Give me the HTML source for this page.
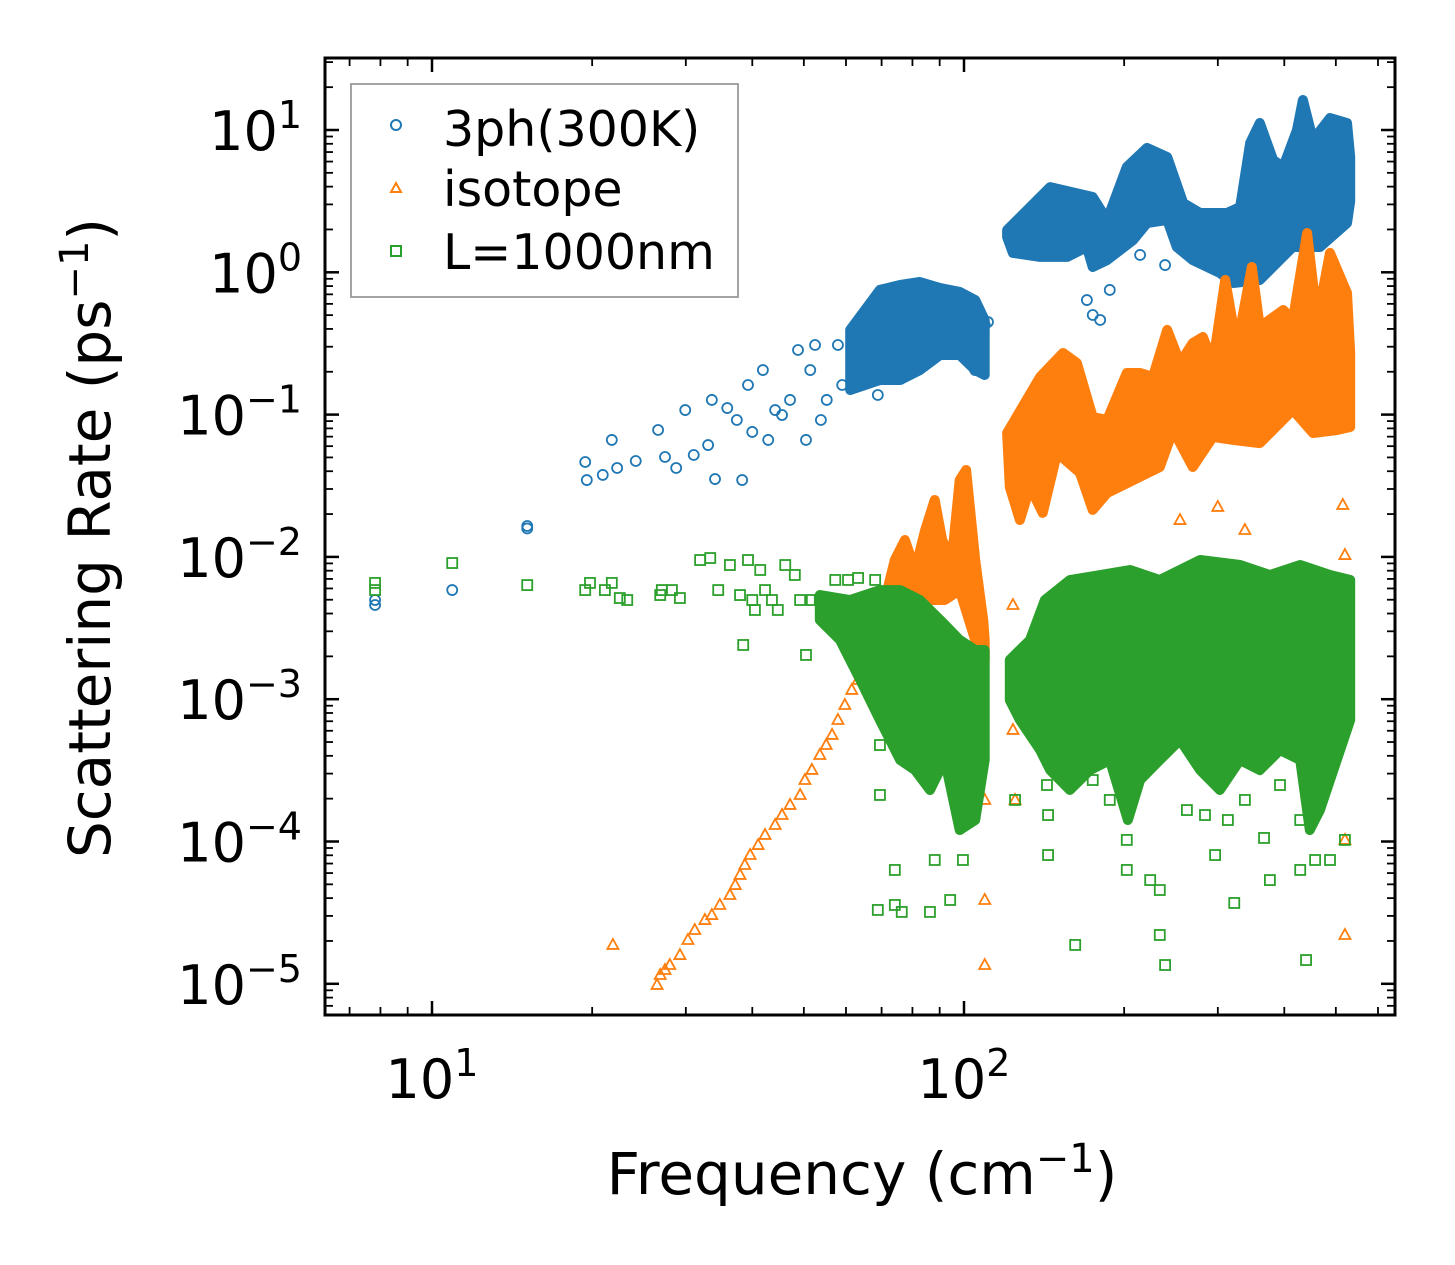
<!DOCTYPE html>
<html><head><meta charset="utf-8"><style>
html,body{margin:0;padding:0;background:#fff;}
svg{display:block;font-family:"DejaVu Sans","Liberation Sans",sans-serif;}
</style></head><body>
<svg id="chart" width="1455" height="1265" viewBox="0 0 1455 1265" xmlns="http://www.w3.org/2000/svg">
<defs><clipPath id="clip"><rect x="325" y="58" width="1070" height="957"/></clipPath></defs>
<rect x="325" y="58" width="1070" height="957" fill="#fff"/>
<g id="marks" clip-path="url(#clip)"></g>
<g id="ticks"></g>
<rect x="325" y="58" width="1070" height="957" fill="none" stroke="#000" stroke-width="3"/>
<g>
<rect x="351" y="84" width="387" height="213" fill="#fff" stroke="#999" stroke-width="1.8"/>
<circle cx="396" cy="125" r="5" fill="none" stroke="#1f77b4" stroke-width="2"/>
<text x="443" y="146" font-size="49">3ph(300K)</text>
<polygon points="396,183 401,192 391,192" fill="none" stroke="#ff7f0e" stroke-width="2"/>
<text x="443" y="206" font-size="49">isotope</text>
<rect x="391" y="246" width="10" height="10" fill="none" stroke="#2ca02c" stroke-width="2"/>
<text x="443" y="269" font-size="49">L=1000nm</text>
</g>
<text x="862" y="1194" font-size="58" text-anchor="middle">Frequency (cm<tspan dy="-22" font-size="40">−1</tspan><tspan dy="22">)</tspan></text>
<text transform="translate(110,538) rotate(-90)" font-size="58" text-anchor="middle">Scattering Rate (ps<tspan dy="-22" font-size="40">−1</tspan><tspan dy="22">)</tspan></text>
</svg>
<script>
// all values are log10 of the data (freq in cm^-1, rate in ps^-1)
const xTickExp=[1,2];
const yTickExp=[1,0,-1,-2,-3,-4,-5];
const xTickLabels=["1","2"];
const yTickLabels=["1","0","−1","−2","−3","−4","−5"];

const ph3Freq=[0.893,0.893,1.038,1.179,1.179,1.288,1.291,1.321,1.338,1.348,1.383,1.425,1.438,1.459,1.476,1.492,1.519,1.526,1.532,1.555,1.573,1.583,1.594,1.602,1.622,1.632,1.645,1.658,1.673,1.688,1.703,1.711,1.720,1.731,1.742,1.763,1.771,1.797,1.816,1.838,1.872,2.039,2.045,2.021,2.231,2.242,2.256,2.274,2.331,2.378];
const ph3Rate=[-2.303,-2.338,-2.233,-1.783,-1.800,-1.333,-1.460,-1.424,-1.178,-1.375,-1.326,-1.108,-1.298,-1.375,-0.968,-1.284,-1.214,-0.897,-1.453,-0.954,-1.038,-1.460,-0.792,-1.122,-0.687,-1.178,-0.968,-1.003,-0.897,-0.546,-1.178,-0.687,-0.511,-1.038,-0.897,-0.511,-0.792,-0.687,-0.757,-0.862,-0.722,-0.370,-0.349,-0.687,-0.195,-0.300,-0.335,-0.124,0.122,0.051];
const ph3BandAFreq=[1.786,1.842,1.880,1.917,1.955,1.992,2.021,2.039,2.039,2.021,1.992,1.955,1.917,1.880,1.842,1.786];
const ph3BandARate=[-0.405,-0.124,-0.089,-0.068,-0.110,-0.138,-0.195,-0.335,-0.722,-0.687,-0.581,-0.581,-0.687,-0.757,-0.757,-0.827];
const ph3BandBFreq=[2.081,2.162,2.242,2.269,2.306,2.344,2.382,2.412,2.444,2.494,2.519,2.538,2.556,2.581,2.600,2.626,2.637,2.656,2.688,2.720,2.726,2.726,2.720,2.669,2.618,2.556,2.506,2.481,2.430,2.400,2.382,2.344,2.318,2.269,2.242,2.231,2.194,2.143,2.092,2.081];
const ph3BandBRate=[0.297,0.599,0.529,0.368,0.740,0.874,0.810,0.487,0.417,0.417,0.459,0.909,1.049,0.789,0.740,1.0,1.211,0.930,1.084,1.049,0.810,0.5,0.346,0.178,0.178,-0.054,-0.075,-0.005,0.086,0.178,0.368,0.346,0.227,0.086,0.037,0.178,0.108,0.108,0.136,0.248];

const isoFreq=[1.340,1.423,1.429,1.438,1.447,1.466,1.481,1.494,1.513,1.526,1.541,1.560,1.570,1.579,1.588,1.598,1.613,1.626,1.645,1.658,1.673,1.692,1.701,1.714,1.729,1.741,1.752,1.763,1.776,1.789,1.801,1.808,1.820,1.827,1.838,1.850,2.039,2.039,2.039,2.092,2.092,2.096,2.265,2.406,2.477,2.528,2.712,2.716,2.716,2.716,2.613,2.368,2.594,2.500];
const isoRate=[-4.727,-5.008,-4.938,-4.903,-4.868,-4.798,-4.692,-4.622,-4.552,-4.517,-4.446,-4.376,-4.306,-4.235,-4.165,-4.095,-4.025,-3.954,-3.884,-3.814,-3.743,-3.673,-3.568,-3.497,-3.392,-3.322,-3.251,-3.146,-3.041,-2.935,-2.865,-2.795,-2.724,-2.654,-2.549,-2.443,-4.411,-4.868,-3.708,-2.338,-3.216,-3.708,-3.216,-1.741,-1.649,-1.811,-1.635,-1.987,-3.989,-4.657,-3.216,-2.935,-3.251,-3.006];
const isoBandAFreq=[1.842,1.870,1.889,1.908,1.927,1.945,1.959,1.977,1.992,2.004,2.021,2.036,2.039,2.039,2.021,1.992,1.964,1.936,1.908,1.880,1.852];
const isoBandARate=[-2.443,-2.022,-1.881,-2.092,-1.811,-1.600,-1.881,-2.022,-1.460,-1.389,-2.022,-2.443,-2.584,-2.724,-2.584,-2.233,-2.303,-2.303,-2.373,-2.514,-2.654];
const isoBandBFreq=[2.081,2.143,2.186,2.212,2.242,2.269,2.306,2.331,2.355,2.382,2.406,2.430,2.449,2.468,2.491,2.513,2.541,2.556,2.600,2.618,2.645,2.664,2.688,2.720,2.726,2.726,2.701,2.656,2.618,2.556,2.506,2.468,2.430,2.393,2.368,2.318,2.269,2.242,2.218,2.175,2.148,2.124,2.105,2.086];
const isoBandBRate=[-1.129,-0.736,-0.567,-0.637,-1.017,-1.038,-0.708,-0.708,-0.736,-0.405,-0.637,-0.497,-0.455,-0.637,-0.054,-0.525,0.037,-0.384,-0.265,-0.335,0.276,-0.335,0.136,-0.145,-0.567,-1.087,-1.108,-1.129,-0.968,-1.200,-1.178,-1.157,-1.368,-1.108,-1.368,-1.460,-1.551,-1.670,-1.410,-1.270,-1.691,-1.509,-1.741,-1.509];

const bndFreq=[0.893,0.893,1.038,1.179,1.288,1.297,1.325,1.338,1.353,1.367,1.429,1.432,1.451,1.466,1.504,1.523,1.538,1.560,1.579,1.585,1.594,1.602,1.607,1.617,1.626,1.639,1.650,1.664,1.682,1.692,1.703,1.714,1.729,1.739,1.758,1.767,1.782,1.801,1.816,1.833,1.842,1.842,1.838,1.870,1.870,1.883,1.936,1.945,1.974,1.998,2.096,2.156,2.158,2.209,2.242,2.306,2.306,2.368,2.368,2.378,2.350,2.419,2.453,2.496,2.472,2.508,2.564,2.594,2.632,2.632,2.643,2.688,2.716,2.660,2.575,2.158,2.209,2.274,2.528];
const bndRate=[-2.183,-2.233,-2.043,-2.198,-2.233,-2.183,-2.233,-2.183,-2.289,-2.303,-2.268,-2.233,-2.233,-2.289,-2.022,-2.008,-2.233,-2.057,-2.268,-2.619,-2.022,-2.303,-2.373,-2.092,-2.233,-2.303,-2.373,-2.057,-2.127,-2.303,-2.689,-2.303,-2.303,-2.408,-2.162,-2.443,-2.162,-2.148,-2.303,-2.162,-3.322,-3.673,-4.481,-4.446,-4.200,-4.495,-4.495,-4.130,-4.411,-4.130,-3.708,-3.603,-3.814,-3.533,-3.568,-4.200,-3.989,-4.341,-4.657,-4.868,-4.271,-3.779,-3.814,-3.849,-4.095,-4.432,-3.975,-3.603,-3.849,-4.200,-4.833,-4.130,-3.989,-4.130,-4.271,-4.095,-4.727,-3.708,-3.708];
const bndBandAFreq=[1.729,1.786,1.842,1.880,1.917,1.955,1.992,2.021,2.039,2.039,2.021,1.992,1.964,1.936,1.908,1.880,1.842,1.805,1.767,1.729];
const bndBandARate=[-2.268,-2.303,-2.233,-2.233,-2.303,-2.443,-2.584,-2.654,-2.654,-3.427,-3.849,-3.919,-3.427,-3.638,-3.498,-3.427,-3.146,-2.865,-2.584,-2.443];
const bndBandBFreq=[2.086,2.124,2.152,2.199,2.256,2.312,2.368,2.406,2.444,2.519,2.575,2.632,2.688,2.726,2.726,2.669,2.650,2.632,2.594,2.556,2.519,2.481,2.444,2.406,2.368,2.331,2.308,2.274,2.237,2.199,2.162,2.143,2.105,2.086];
const bndBandBRate=[-2.724,-2.584,-2.303,-2.162,-2.127,-2.092,-2.162,-2.092,-2.022,-2.057,-2.127,-2.057,-2.127,-2.162,-3.146,-3.779,-3.919,-3.427,-3.357,-3.498,-3.427,-3.638,-3.498,-3.287,-3.427,-3.568,-3.849,-3.427,-3.498,-3.638,-3.498,-3.357,-3.146,-3.006];

const NS="http://www.w3.org/2000/svg";
function X(l){return 432+532*(l-1);}
function Y(l){return 130-142.3*(l-1);}
const marks=document.getElementById('marks');
const ticks=document.getElementById('ticks');
const svg=document.getElementById('chart');
function mk(tag,parent){const e=document.createElementNS(NS,tag);parent.appendChild(e);return e;}

function band(fs,rs,color,name){
  const p=mk('polygon',marks);
  
  
  p.setAttribute('points',fs.map((f,i)=>X(f).toFixed(1)+','+Y(rs[i]).toFixed(1)).join(' '));
  p.setAttribute('fill',color);p.setAttribute('stroke',color);
  p.setAttribute('stroke-width','10');p.setAttribute('stroke-linejoin','round');
}
function scatter(fs,rs,color,shape,name){
  fs.forEach((f,i)=>{
    const x=X(f),y=Y(rs[i]);let e;
    if(shape==='circle'){e=mk('circle',marks);e.setAttribute('cx',x);e.setAttribute('cy',y);e.setAttribute('r',5);}
    else if(shape==='tri'){e=mk('polygon',marks);e.setAttribute('points',`${x},${y-6} ${x+5.5},${y+4} ${x-5.5},${y+4}`);}
    else {e=mk('rect',marks);e.setAttribute('x',x-5);e.setAttribute('y',y-5);e.setAttribute('width',10);e.setAttribute('height',10);}
    
    
    e.setAttribute('fill','none');e.setAttribute('stroke',color);e.setAttribute('stroke-width','1.8');
  });
}
band(ph3BandAFreq,ph3BandARate,'#1f77b4','3ph-dense-cloud-low');
band(ph3BandBFreq,ph3BandBRate,'#1f77b4','3ph-dense-cloud-high');
scatter(ph3Freq,ph3Rate,'#1f77b4','circle','3ph-point');
band(isoBandAFreq,isoBandARate,'#ff7f0e','isotope-dense-cloud-low');
band(isoBandBFreq,isoBandBRate,'#ff7f0e','isotope-dense-cloud-high');
scatter(isoFreq,isoRate,'#ff7f0e','tri','isotope-point');
band(bndBandAFreq,bndBandARate,'#2ca02c','boundary-dense-cloud-low');
band(bndBandBFreq,bndBandBRate,'#2ca02c','boundary-dense-cloud-high');
scatter(bndFreq,bndRate,'#2ca02c','sq','boundary-point');

function line(x1,y1,x2,y2,w,name){const l=mk('line',ticks);
  
  
  l.setAttribute('x1',x1);l.setAttribute('y1',y1);l.setAttribute('x2',x2);l.setAttribute('y2',y2);
  l.setAttribute('stroke','#000');l.setAttribute('stroke-width',w);}
for(let d=0;d<=2;d++){for(let m=1;m<=9;m++){const l=d+Math.log10(m);const x=X(l);
  if(x<326||x>1394)continue;const maj=m===1;const L=maj?14:8;
  line(x,1015,x,1015-L,maj?2.5:1.8,maj?'x-major-tick':'x-minor-tick');
  line(x,58,x,58+L,maj?2.5:1.8,maj?'x-major-tick-top':'x-minor-tick-top');}}
for(let d=-6;d<=1;d++){for(let m=1;m<=9;m++){const l=d+Math.log10(m);const y=Y(l);
  if(y<59||y>1014)continue;const maj=m===1;const L=maj?14:8;
  line(325,y,325+L,y,maj?2.5:1.8,maj?'y-major-tick':'y-minor-tick');
  line(1395,y,1395-L,y,maj?2.5:1.8,maj?'y-major-tick-right':'y-minor-tick-right');}}
xTickExp.forEach((e,i)=>{const t=mk('text',svg);
  
  
  t.setAttribute('x',X(e));t.setAttribute('y',1098);t.setAttribute('font-size','54');t.setAttribute('text-anchor','middle');
  t.innerHTML='10<tspan dy="-22" font-size="38">'+xTickLabels[i]+'</tspan>';});
yTickExp.forEach((e,i)=>{const t=mk('text',svg);
  
  
  t.setAttribute('x',302);t.setAttribute('y',Y(e)+20);t.setAttribute('font-size','54');t.setAttribute('text-anchor','end');
  t.innerHTML='10<tspan dy="-22" font-size="38">'+yTickLabels[i]+'</tspan>';});
</script>
</body></html>
